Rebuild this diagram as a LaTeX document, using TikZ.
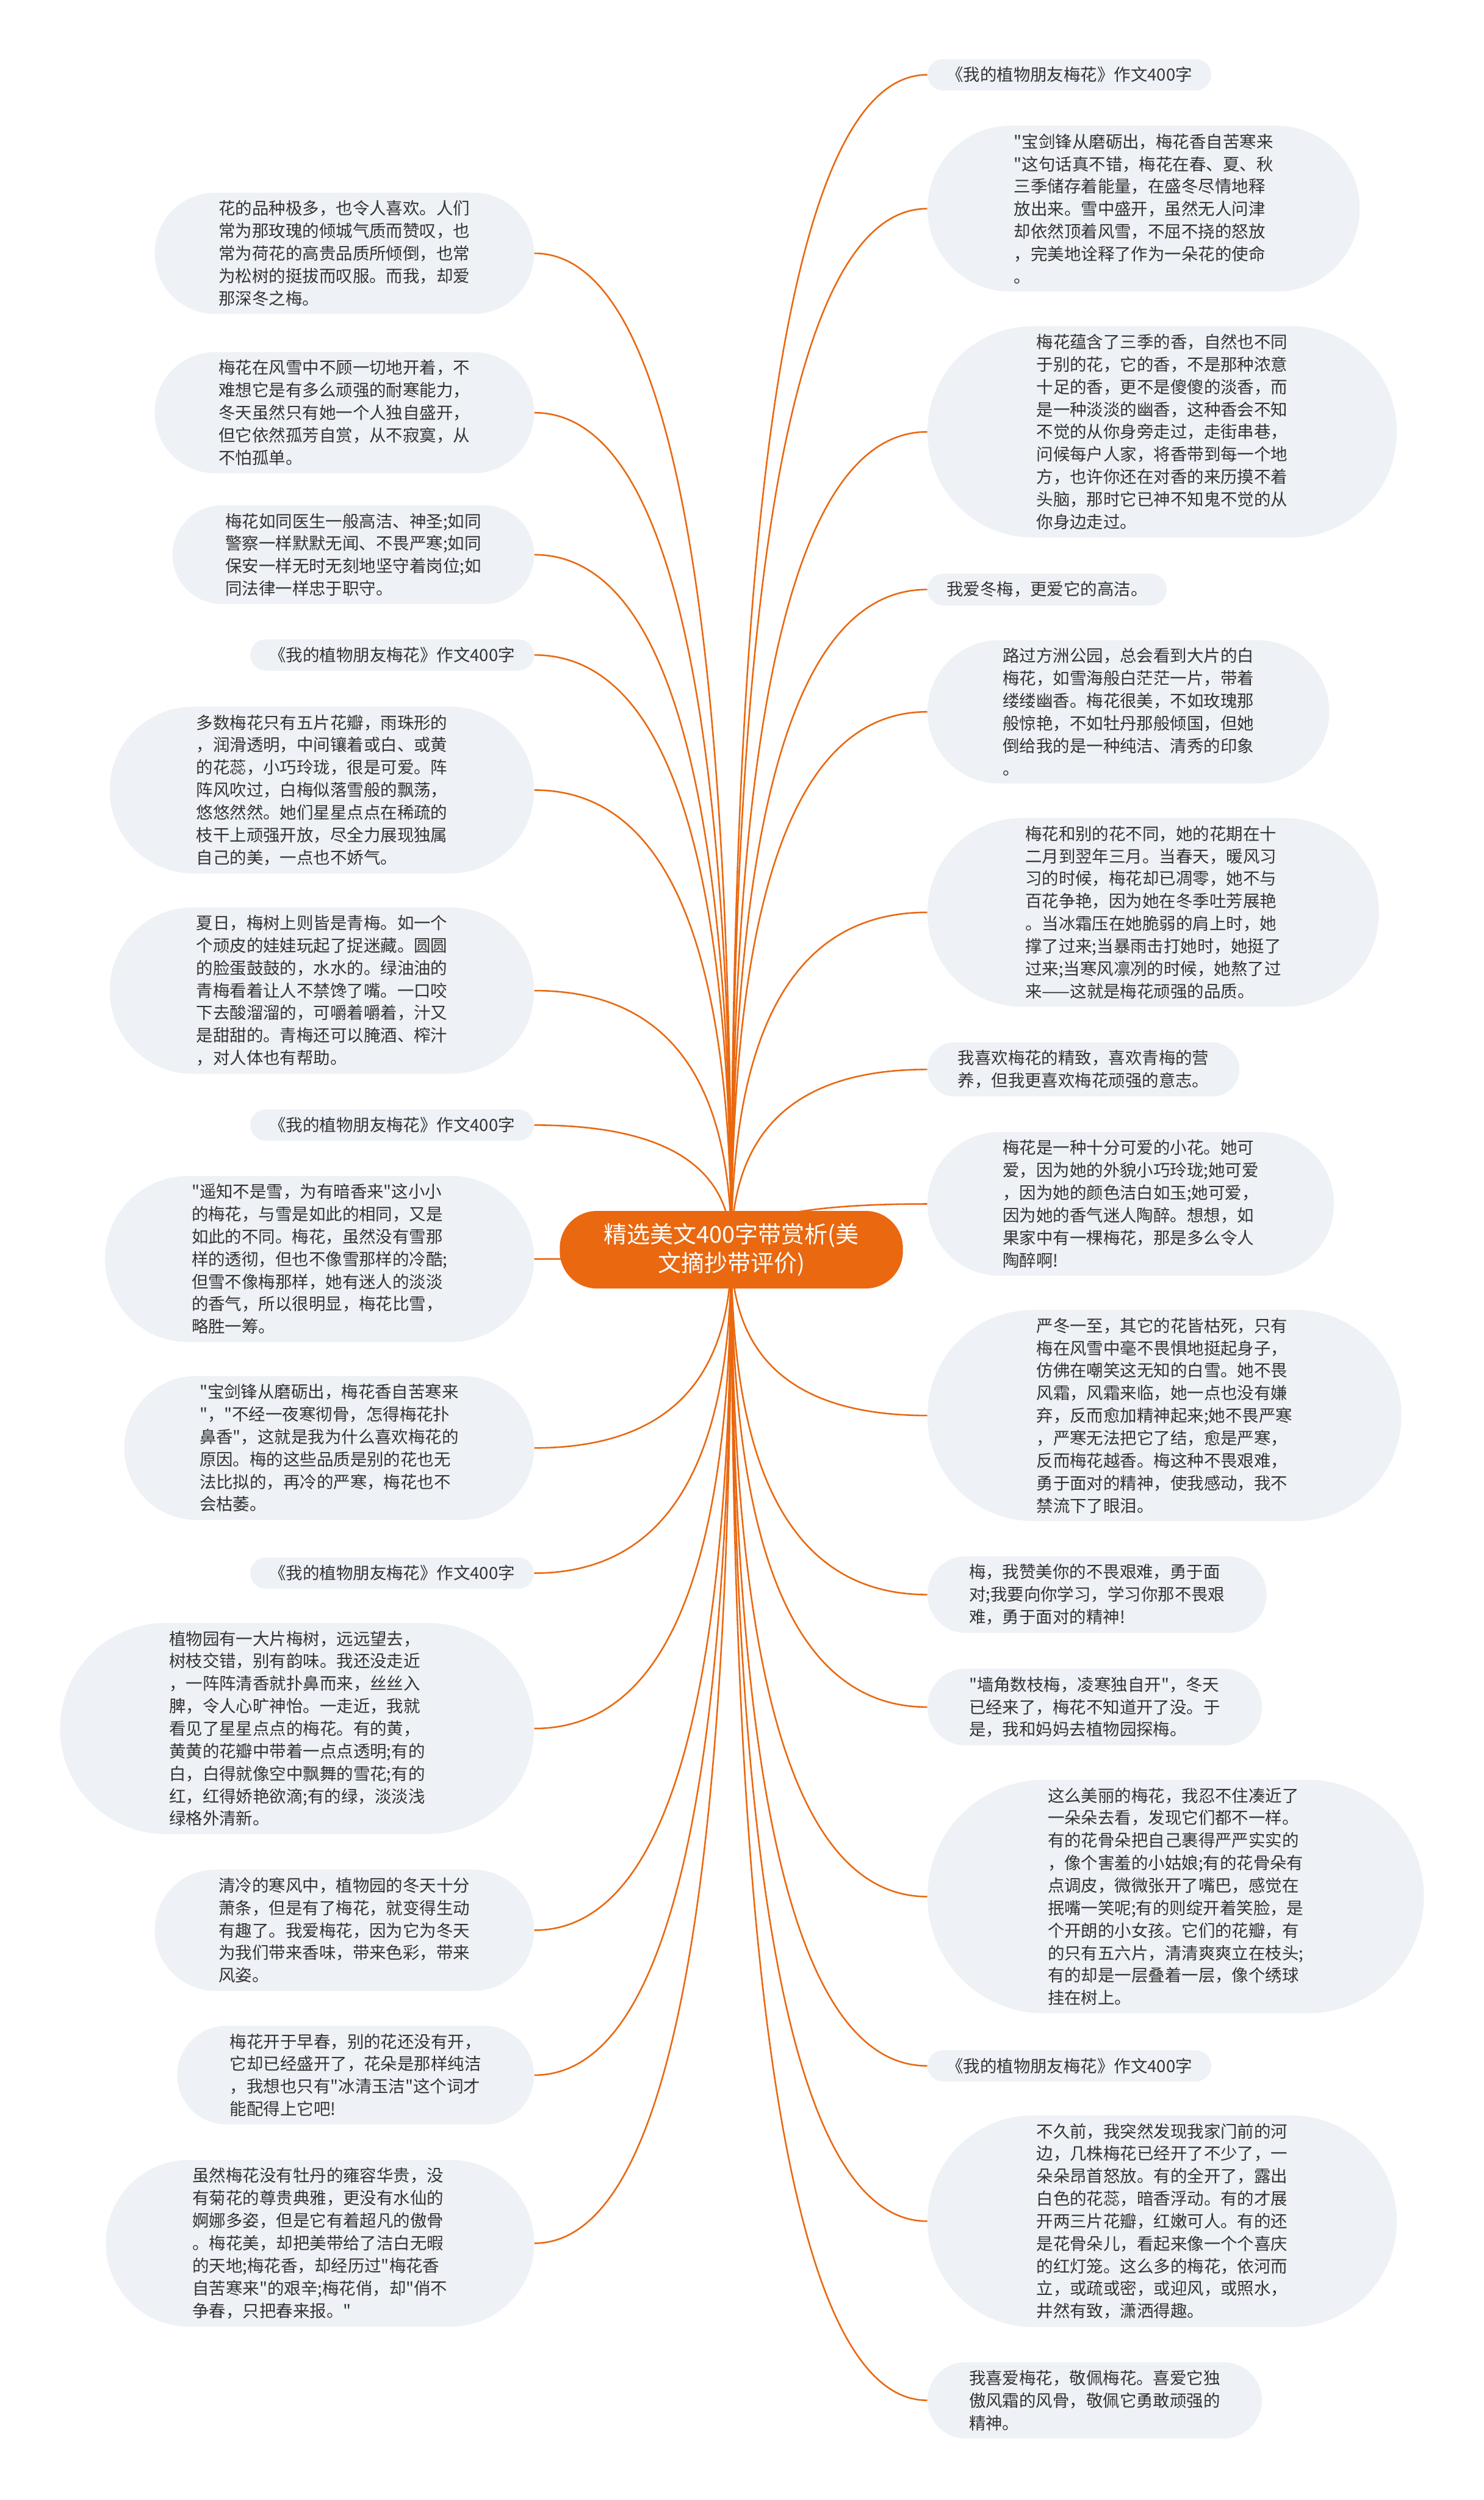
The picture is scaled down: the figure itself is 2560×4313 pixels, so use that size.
\documentclass[tikz,border=0pt]{standalone}
\usepackage{fontspec}
\newfontfamily\cjk{Noto Sans CJK SC}
\usetikzlibrary{calc}
\definecolor{meiorange}{RGB}{233,104,16}
\definecolor{leafgray}{RGB}{238,241,245}
\definecolor{ink}{RGB}{51,51,51}
\pgfdeclarelayer{bg}
\pgfsetlayers{bg,main}

\tikzset{
  % #1 = number of text lines, gives the pill ends
  leaf/.style={rectangle, fill=leafgray, text=ink, align=left,
    inner ysep=6.75pt, inner xsep={(9.7*#1+6.8)*1pt},
    rounded corners={(9.7*#1+3.8)*1pt},
    font=\cjk\fontsize{14.45pt}{19.4pt}\selectfont},
  leafL/.style={leaf=#1, anchor=east},
  leafR/.style={leaf=#1, anchor=west},
  root/.style={rectangle, rounded corners=32pt, fill=meiorange, text=white,
    align=center, inner xsep=38pt, inner ysep=10.5pt,
    font=\cjk\fontsize{20pt}{25pt}\selectfont},
  branch/.style={draw=meiorange, line width=1.35pt}
}

\begin{document}
\begin{tikzpicture}[x=0.5pt, y=-0.5pt]
  \useasboundingbox (0,0) rectangle (2560,4313);
  % centre topic
  \node[root] (root) at (1262,2156) {精选美文400字带赏析(美\\文摘抄带评价)};
  % left branch
  \node[leafL=5] (l1) at (922,437) {花的品种极多，也令人喜欢。人们\\常为那玫瑰的倾城气质而赞叹，也\\常为荷花的高贵品质所倾倒，也常\\为松树的挺拔而叹服。而我，却爱\\那深冬之梅。};
  \node[leafL=5] (l2) at (922,712) {梅花在风雪中不顾一切地开着，不\\难想它是有多么顽强的耐寒能力，\\冬天虽然只有她一个人独自盛开，\\但它依然孤芳自赏，从不寂寞，从\\不怕孤单。};
  \node[leafL=4] (l3) at (922,957) {梅花如同医生一般高洁、神圣;如同\\警察一样默默无闻、不畏严寒;如同\\保安一样无时无刻地坚守着岗位;如\\同法律一样忠于职守。};
  \node[leafL=1] (l4) at (922,1130) {《我的植物朋友梅花》作文400字};
  \node[leafL=7] (l5) at (922,1363) {多数梅花只有五片花瓣，雨珠形的\\，润滑透明，中间镶着或白、或黄\\的花蕊，小巧玲珑，很是可爱。阵\\阵风吹过，白梅似落雪般的飘荡，\\悠悠然然。她们星星点点在稀疏的\\枝干上顽强开放，尽全力展现独属\\自己的美，一点也不娇气。};
  \node[leafL=7] (l6) at (922,1709) {夏日，梅树上则皆是青梅。如一个\\个顽皮的娃娃玩起了捉迷藏。圆圆\\的脸蛋鼓鼓的，水水的。绿油油的\\青梅看着让人不禁馋了嘴。一口咬\\下去酸溜溜的，可嚼着嚼着，汁又\\是甜甜的。青梅还可以腌酒、榨汁\\，对人体也有帮助。};
  \node[leafL=1] (l7) at (922,1941) {《我的植物朋友梅花》作文400字};
  \node[leafL=7] (l8) at (922,2172) {"遥知不是雪，为有暗香来"这小小\\的梅花，与雪是如此的相同，又是\\如此的不同。梅花，虽然没有雪那\\样的透彻，但也不像雪那样的冷酷;\\但雪不像梅那样，她有迷人的淡淡\\的香气，所以很明显，梅花比雪，\\略胜一筹。};
  \node[leafL=6] (l9) at (922,2498) {"宝剑锋从磨砺出，梅花香自苦寒来\\"，"不经一夜寒彻骨，怎得梅花扑\\鼻香"，这就是我为什么喜欢梅花的\\原因。梅的这些品质是别的花也无\\法比拟的，再冷的严寒，梅花也不\\会枯萎。};
  \node[leafL=1] (l10) at (922,2714) {《我的植物朋友梅花》作文400字};
  \node[leafL=9] (l11) at (922,2982) {植物园有一大片梅树，远远望去，\\树枝交错，别有韵味。我还没走近\\，一阵阵清香就扑鼻而来，丝丝入\\脾，令人心旷神怡。一走近，我就\\看见了星星点点的梅花。有的黄，\\黄黄的花瓣中带着一点点透明;有的\\白，白得就像空中飘舞的雪花;有的\\红，红得娇艳欲滴;有的绿，淡淡浅\\绿格外清新。};
  \node[leafL=5] (l12) at (922,3330) {清冷的寒风中，植物园的冬天十分\\萧条，但是有了梅花，就变得生动\\有趣了。我爱梅花，因为它为冬天\\为我们带来香味，带来色彩，带来\\风姿。};
  \node[leafL=4] (l13) at (922,3580) {梅花开于早春，别的花还没有开，\\它却已经盛开了，花朵是那样纯洁\\，我想也只有"冰清玉洁"这个词才\\能配得上它吧!};
  \node[leafL=7] (l14) at (922,3870) {虽然梅花没有牡丹的雍容华贵，没\\有菊花的尊贵典雅，更没有水仙的\\婀娜多姿，但是它有着超凡的傲骨\\。梅花美，却把美带给了洁白无暇\\的天地;梅花香，却经历过"梅花香\\自苦寒来"的艰辛;梅花俏，却"俏不\\争春，只把春来报。"};
  % right branch
  \node[leafR=1] (r1) at (1600,129) {《我的植物朋友梅花》作文400字};
  \node[leafR=7] (r2) at (1600,360) {"宝剑锋从磨砺出，梅花香自苦寒来\\"这句话真不错，梅花在春、夏、秋\\三季储存着能量，在盛冬尽情地释\\放出来。雪中盛开，虽然无人问津\\却依然顶着风雪，不屈不挠的怒放\\，完美地诠释了作为一朵花的使命\\。};
  \node[leafR=9] (r3) at (1600,745) {梅花蕴含了三季的香，自然也不同\\于别的花，它的香，不是那种浓意\\十足的香，更不是傻傻的淡香，而\\是一种淡淡的幽香，这种香会不知\\不觉的从你身旁走过，走街串巷，\\问候每户人家，将香带到每一个地\\方，也许你还在对香的来历摸不着\\头脑，那时它已神不知鬼不觉的从\\你身边走过。};
  \node[leafR=1] (r4) at (1600,1017) {我爱冬梅，更爱它的高洁。};
  \node[leafR=6] (r5) at (1600,1228) {路过方洲公园，总会看到大片的白\\梅花，如雪海般白茫茫一片，带着\\缕缕幽香。梅花很美，不如玫瑰那\\般惊艳，不如牡丹那般倾国，但她\\倒给我的是一种纯洁、清秀的印象\\。};
  \node[leafR=8] (r6) at (1600,1574) {梅花和别的花不同，她的花期在十\\二月到翌年三月。当春天，暖风习\\习的时候，梅花却已凋零，她不与\\百花争艳，因为她在冬季吐芳展艳\\。当冰霜压在她脆弱的肩上时，她\\撑了过来;当暴雨击打她时，她挺了\\过来;当寒风凛冽的时候，她熬了过\\来——这就是梅花顽强的品质。};
  \node[leafR=2] (r7) at (1600,1845) {我喜欢梅花的精致，喜欢青梅的营\\养，但我更喜欢梅花顽强的意志。};
  \node[leafR=6] (r8) at (1600,2077) {梅花是一种十分可爱的小花。她可\\爱，因为她的外貌小巧玲珑;她可爱\\，因为她的颜色洁白如玉;她可爱，\\因为她的香气迷人陶醉。想想，如\\果家中有一棵梅花，那是多么令人\\陶醉啊!};
  \node[leafR=9] (r9) at (1600,2442) {严冬一至，其它的花皆枯死，只有\\梅在风雪中毫不畏惧地挺起身子，\\仿佛在嘲笑这无知的白雪。她不畏\\风霜，风霜来临，她一点也没有嫌\\弃，反而愈加精神起来;她不畏严寒\\，严寒无法把它了结，愈是严寒，\\反而梅花越香。梅这种不畏艰难，\\勇于面对的精神，使我感动，我不\\禁流下了眼泪。};
  \node[leafR=3] (r10) at (1600,2751) {梅，我赞美你的不畏艰难，勇于面\\对;我要向你学习，学习你那不畏艰\\难，勇于面对的精神!};
  \node[leafR=3] (r11) at (1600,2945) {"墙角数枝梅，凌寒独自开"，冬天\\已经来了，梅花不知道开了没。于\\是，我和妈妈去植物园探梅。};
  \node[leafR=10] (r12) at (1600,3272) {这么美丽的梅花，我忍不住凑近了\\一朵朵去看，发现它们都不一样。\\有的花骨朵把自己裹得严严实实的\\，像个害羞的小姑娘;有的花骨朵有\\点调皮，微微张开了嘴巴，感觉在\\抿嘴一笑呢;有的则绽开着笑脸，是\\个开朗的小女孩。它们的花瓣，有\\的只有五六片，清清爽爽立在枝头;\\有的却是一层叠着一层，像个绣球\\挂在树上。};
  \node[leafR=1] (r13) at (1600,3564) {《我的植物朋友梅花》作文400字};
  \node[leafR=9] (r14) at (1600,3832) {不久前，我突然发现我家门前的河\\边，几株梅花已经开了不少了，一\\朵朵昂首怒放。有的全开了，露出\\白色的花蕊，暗香浮动。有的才展\\开两三片花瓣，红嫩可人。有的还\\是花骨朵儿，看起来像一个个喜庆\\的红灯笼。这么多的梅花，依河而\\立，或疏或密，或迎风，或照水，\\井然有致，潇洒得趣。};
  \node[leafR=3] (r15) at (1600,4141) {我喜爱梅花，敬佩梅花。喜爱它独\\傲风霜的风骨，敬佩它勇敢顽强的\\精神。};
  % connectors, behind the nodes
  \begin{pgfonlayer}{bg}
    \foreach \i in {1,...,14} {
      \coordinate (kl\i) at (root.center |- l\i.east);
      \draw[branch] (root.center) .. controls ($(root.center)!0.667!(kl\i)$)
        and ($(l\i.east)!0.667!(kl\i)$) .. (l\i.east);
    }
    \foreach \i in {1,...,15} {
      \coordinate (kr\i) at (root.center |- r\i.west);
      \draw[branch] (root.center) .. controls ($(root.center)!0.667!(kr\i)$)
        and ($(r\i.west)!0.667!(kr\i)$) .. (r\i.west);
    }
  \end{pgfonlayer}
\end{tikzpicture}
\end{document}
